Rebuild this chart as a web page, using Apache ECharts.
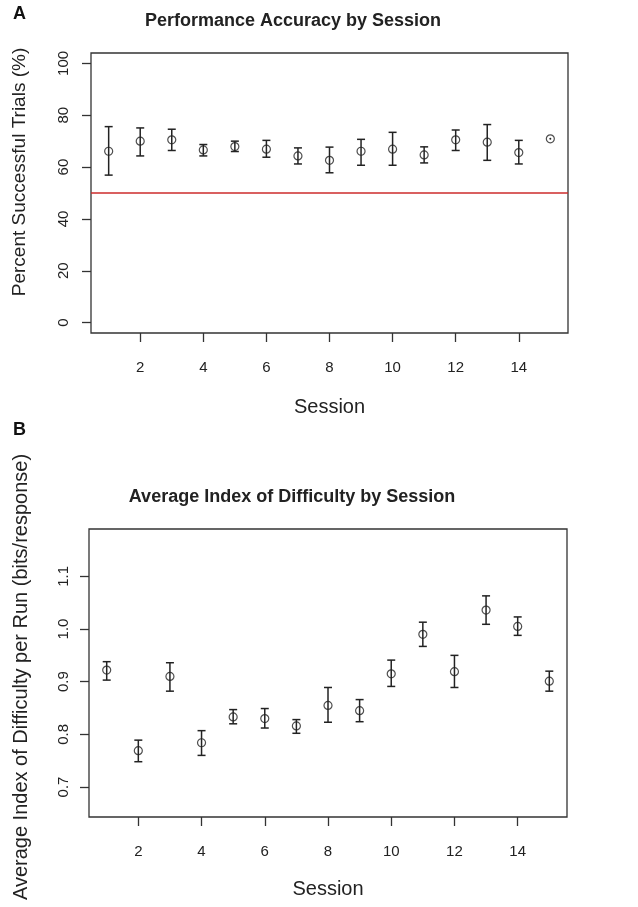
<!DOCTYPE html>
<html>
<head>
<meta charset="utf-8">
<script src="https://cdn.jsdelivr.net/npm/echarts@6/dist/echarts.min.js"></script>
<style>
html,body{margin:0;padding:0;background:#fff;}
#chart{width:638px;height:907px;}
</style>
</head>
<body>
<div id="chart"></div>
<script>
// ---- data ----
const sessions = [1,2,3,4,5,6,7,8,9,10,11,12,13,14,15];
const accMean = [66.1,70.0,70.5,66.6,67.9,66.9,64.3,62.6,66.1,66.9,64.7,70.5,69.6,65.6,70.9];
const accLo   = [56.9,64.3,66.4,64.3,66.0,63.8,61.2,57.8,60.7,60.7,61.6,66.4,62.6,61.2,70.9];
const accHi   = [75.6,75.1,74.6,68.7,70.0,70.3,67.4,67.7,70.7,73.4,67.8,74.3,76.4,70.3,70.9];
const chanceLevel = 50;
const idMean = [0.922,0.769,0.910,0.784,0.833,0.830,0.816,0.855,0.845,0.915,0.990,0.919,1.036,1.005,0.901];
const idLo   = [0.903,0.748,0.882,0.760,0.820,0.812,0.802,0.823,0.824,0.891,0.967,0.889,1.009,0.988,0.882];
const idHi   = [0.938,0.789,0.936,0.807,0.847,0.849,0.828,0.889,0.866,0.941,1.013,0.950,1.063,1.023,0.920];
const xTicks = [2,4,6,8,10,12,14];
const accTicks = [0,20,40,60,80,100];
const idTicks = [0.7,0.8,0.9,1.0,1.1];

const titleA = 'Performance Accuracy by Session';
const titleB = 'Average Index of Difficulty by Session';
const yNameA = 'Percent Successful Trials (%)';
const yNameB = 'Average Index of Difficulty per Run (bits/response)';
const xName = 'Session';

// ---- chart ----
const FONT = '"Liberation Sans", Arial, sans-serif';
const INK = '#222';
const chart = echarts.init(document.getElementById('chart'), null, {renderer:'canvas'});

function errRender(params, api) {
  const x = api.value(0), lo = api.value(1), hi = api.value(2);
  const pLo = api.coord([x, lo]);
  const pHi = api.coord([x, hi]);
  const w = 4;
  const st = {stroke: INK, lineWidth: 1.5};
  if (hi === lo) {
    return {type:'circle', shape:{cx:pLo[0], cy:pLo[1], r:1}, style:{fill:INK}};
  }
  return {type:'group', children:[
    {type:'line', shape:{x1:pHi[0], y1:pHi[1], x2:pLo[0], y2:pLo[1]}, style:st},
    {type:'line', shape:{x1:pHi[0]-w, y1:pHi[1], x2:pHi[0]+w, y2:pHi[1]}, style:st},
    {type:'line', shape:{x1:pLo[0]-w, y1:pLo[1], x2:pLo[0]+w, y2:pLo[1]}, style:st}
  ]};
}

function xAxisCfg(idx, gap) {
  return {
    type:'value', gridIndex: idx, min: 0.44, max: 15.56,
    axisLine:{show:false, onZero:false},
    axisTick:{show:true, inside:false, length:9, customValues:xTicks, lineStyle:{color:'#333', width:1.3}},
    axisLabel:{show:true, customValues:xTicks, margin:27, color:INK, fontSize:15, fontFamily:FONT},
    splitLine:{show:false},
    name: xName, nameLocation:'middle', nameGap: gap,
    nameTextStyle:{color:INK, fontSize:20, fontFamily:FONT}
  };
}

const option = {
  backgroundColor:'#fff',
  animation:false,
  title:[
    {text:'A', left:13, top:5, padding:0, textStyle:{fontSize:18, fontWeight:'bold', color:'#111', fontFamily:FONT}},
    {text:'B', left:13, top:421, padding:0, textStyle:{fontSize:18, fontWeight:'bold', color:'#111', fontFamily:FONT}},
    {text:titleA, left:293, top:12, textAlign:'center', padding:0, textStyle:{fontSize:18, fontWeight:'bold', color:INK, fontFamily:FONT}},
    {text:titleB, left:292, top:488, textAlign:'center', padding:0, textStyle:{fontSize:18, fontWeight:'bold', color:INK, fontFamily:FONT}}
  ],
  graphic:[
    {type:'text', x:20, y:172, rotation:Math.PI/2, style:{text:yNameA, font:'19px '+FONT, fill:INK, textAlign:'center', textVerticalAlign:'middle'}},
    {type:'text', x:21, y:677, rotation:Math.PI/2, style:{text:yNameB, font:'20px '+FONT, fill:INK, textAlign:'center', textVerticalAlign:'middle'}}
  ],
  grid:[
    {left:91, top:53, width:477, height:280, show:true, borderColor:'#333', borderWidth:1.3, backgroundColor:'transparent'},
    {left:89, top:529, width:478, height:288, show:true, borderColor:'#333', borderWidth:1.3, backgroundColor:'transparent'}
  ],
  xAxis:[ xAxisCfg(0, 64), xAxisCfg(1, 62) ],
  yAxis:[
    {type:'value', gridIndex:0, min:-4, max:104,
      axisLine:{show:false, onZero:false},
      axisTick:{show:true, inside:false, length:9, customValues:accTicks, lineStyle:{color:'#333', width:1.3}},
      axisLabel:{show:true, customValues:accTicks, rotate:90, margin:20, color:INK, fontSize:15, fontFamily:FONT},
      splitLine:{show:false}},
    {type:'value', gridIndex:1, min:0.643, max:1.19,
      axisLine:{show:false, onZero:false},
      axisTick:{show:true, inside:false, length:9, customValues:idTicks, lineStyle:{color:'#333', width:1.3}},
      axisLabel:{show:true, customValues:idTicks, rotate:90, margin:18, color:INK, fontSize:15, fontFamily:FONT,
        formatter:(v)=>Number(v).toFixed(1)},
      splitLine:{show:false}}
  ],
  series:[
    {type:'custom', xAxisIndex:0, yAxisIndex:0, renderItem:errRender,
      data: sessions.map((s,i)=>[s, accLo[i], accHi[i]]), z:3,
      markLine:{silent:true, symbol:['none','none'], label:{show:false},
        lineStyle:{color:'#cc2b2b', width:1.5, type:'solid'},
        data:[{yAxis:chanceLevel}]}},
    {type:'scatter', xAxisIndex:0, yAxisIndex:0, symbol:'circle', symbolSize:8,
      itemStyle:{color:'transparent', borderColor:INK, borderWidth:1.2},
      data: sessions.map((s,i)=>[s, accMean[i]]), z:4},
    {type:'custom', xAxisIndex:1, yAxisIndex:1, renderItem:errRender,
      data: sessions.map((s,i)=>[s, idLo[i], idHi[i]]), z:3},
    {type:'scatter', xAxisIndex:1, yAxisIndex:1, symbol:'circle', symbolSize:8,
      itemStyle:{color:'transparent', borderColor:INK, borderWidth:1.2},
      data: sessions.map((s,i)=>[s, idMean[i]]), z:4}
  ]
};
chart.setOption(option);
</script>
</body>
</html>
